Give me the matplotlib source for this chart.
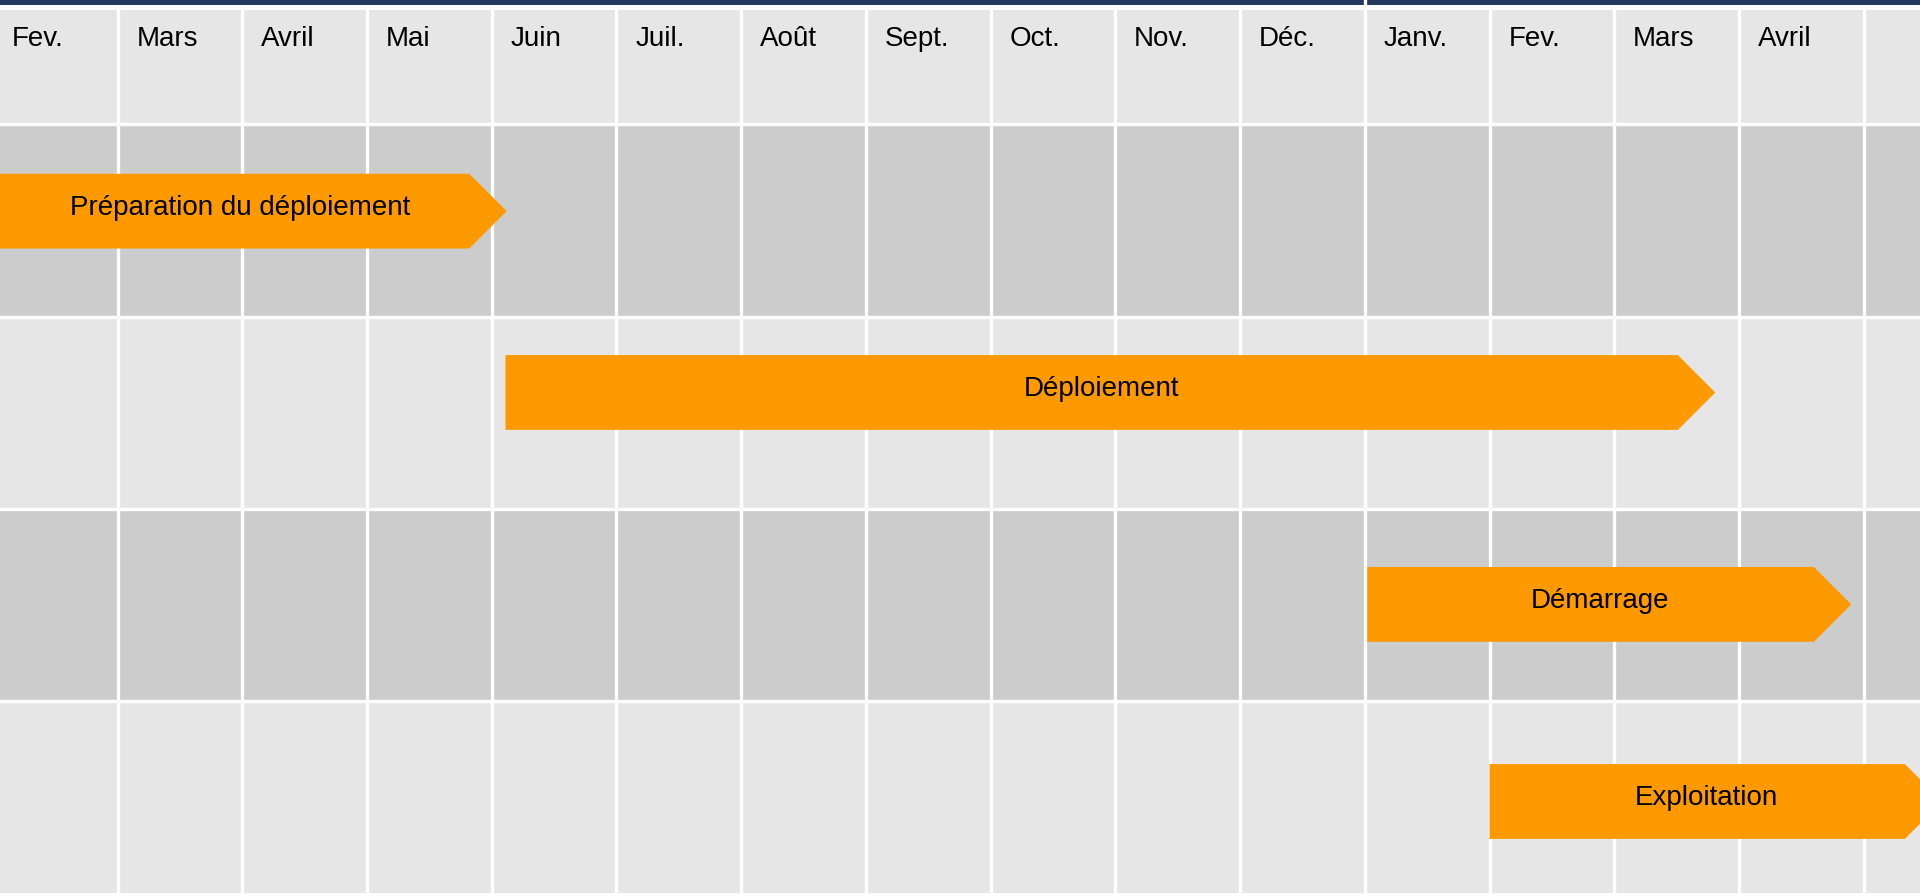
import matplotlib.pyplot as plt
from matplotlib.patches import Polygon

# Timeline columns (one per month), last column has no label
months = ['Fev.', 'Mars', 'Avril', 'Mai', 'Juin', 'Juil.', 'Août', 'Sept.',
          'Oct.', 'Nov.', 'Déc.', 'Janv.', 'Fev.', 'Mars', 'Avril', '']
year_break = 11  # Déc. -> Janv.

# Phases: start / end of the bar body in month units, lane position in row units
tasks = ['Préparation du déploiement', 'Déploiement', 'Démarrage', 'Exploitation']
task_start = [0.0, 4.11, 11.02, 12.0]
task_end = [3.82, 13.51, 14.60, 15.33]
task_lane = [0.452, 1.395, 2.497, 3.522]
n_rows = 4

orange = '#FF9900'
dark_row = '#CCCCCC'
light_row = '#E6E6E6'
navy = '#243A5C'
font = ['Liberation Sans Narrow', 'Liberation Sans', 'DejaVu Sans']

fig = plt.figure(figsize=(19.2, 8.94), dpi=100)
ax = fig.add_axes([0, 0, 1, 1])
ax.set_xlim(0.0575, 15.451)
ax.set_ylim(4.003, -0.646)
ax.axis('off')

# top band and header
ax.axhspan(-0.646, -0.618, color=navy, lw=0, zorder=0)
ax.axhspan(-0.596, 0, color=light_row, lw=0, zorder=0)

# alternating lanes
for r in range(n_rows):
    ax.axhspan(r, r + 1, color=dark_row if r % 2 == 0 else light_row, lw=0, zorder=0)

# white grid
ax.vlines(range(1, len(months)), -0.61, 4.1, color='white', lw=2.4, zorder=1)
ax.vlines(year_break, -0.66, -0.6, color='white', lw=2.4, zorder=1)
ax.hlines(range(n_rows), 0, len(months), color='white', lw=2.4, zorder=1)

# month labels
for i, m in enumerate(months):
    ax.text(i + 0.15, -0.405, m, fontsize=20, family=font, color='black',
            ha='left', va='baseline', zorder=3)

# arrow-shaped bars
bar_h = 0.389
tip = 0.30
for name, s, e, y in zip(tasks, task_start, task_end, task_lane):
    pts = [(s, y - bar_h / 2), (e, y - bar_h / 2), (e + tip, y),
           (e, y + bar_h / 2), (s, y + bar_h / 2)]
    ax.add_patch(Polygon(pts, closed=True, facecolor=orange, edgecolor='none', zorder=2))
    ax.text((s + e) / 2 + tip / 4, y + 0.02, name, fontsize=20, family=font,
            color='black', ha='center', va='baseline', zorder=3)

fig.savefig('out.png', dpi=100)
